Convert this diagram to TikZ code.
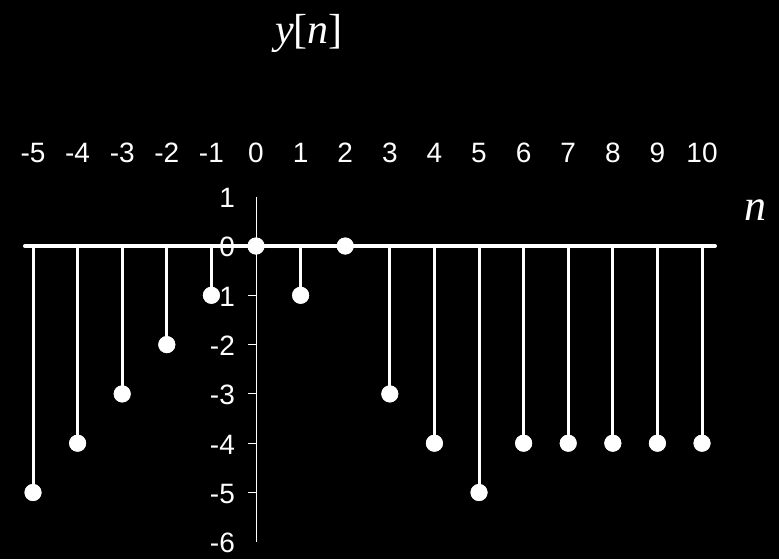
\documentclass[tikz,border=0pt]{standalone}
\usepackage{fontspec}
\setmainfont{Liberation Sans}
\newfontfamily\seriffont{Liberation Serif}
\tikzset{
  stem/.style={white, line width=3bp},
  dot/.style={circle, fill=white, inner sep=0pt, minimum size=17bp},
  numlabel/.style={white, inner sep=0pt, font=\fontsize{28bp}{32bp}\selectfont}
}
\begin{document}
\begin{tikzpicture}[x=44.6bp, y=49.3bp]
    % background
    \fill[black] (-5.740,-6.349) rectangle (11.726,4.990);
    \useasboundingbox (-5.740,-6.349) rectangle (11.726,4.990);

    % vertical axis with ticks
    \coordinate (ytop) at (0,1);
    \coordinate (ybot) at (0,-6);
    \draw[white, line width=1bp] (ytop) -- (ybot);
    \foreach \k in {0,-1,...,-5}
      \draw[white, line width=1bp] (-0.18,\k) -- (0,\k);
    \foreach \k in {1,0,-1,...,-6}
      \node[numlabel, anchor=base east] (ylab\k) at (-0.47,\k-0.22) {\k};

    % horizontal axis
    \coordinate (xleft) at (-5.18,0);
    \coordinate (xright) at (10.29,0);
    \draw[white, line width=4bp, line cap=round] (xleft) -- (xright);

    % n labels on top
    \foreach \n in {-5,...,10}
      \node[numlabel, anchor=base] (nlab\n) at (\n,1.70) {\n};

    % samples
    \foreach \n/\v in {-5/-5,-4/-4,-3/-3,-2/-2,-1/-1,0/0,1/-1,2/0,3/-3,4/-4,5/-5,6/-4,7/-4,8/-4,9/-4,10/-4}{
      \coordinate (b\n) at (\n,0);
      \node[dot] (p\n) at (\n,\v) {};
      \draw[stem] (b\n) -- (p\n.center);
      \node[dot] at (p\n) {};
    }

    % titles
    \node[white, inner sep=0pt, font=\seriffont\fontsize{42bp}{46bp}\selectfont] (title) at (1.19,4.32) {\textit{y}[\textit{n}]};
    \node[white, inner sep=0pt, font=\seriffont\itshape\fontsize{44bp}{48bp}\selectfont] (nname) at (11.21,0.73) {n};
  \end{tikzpicture}
\end{document}
